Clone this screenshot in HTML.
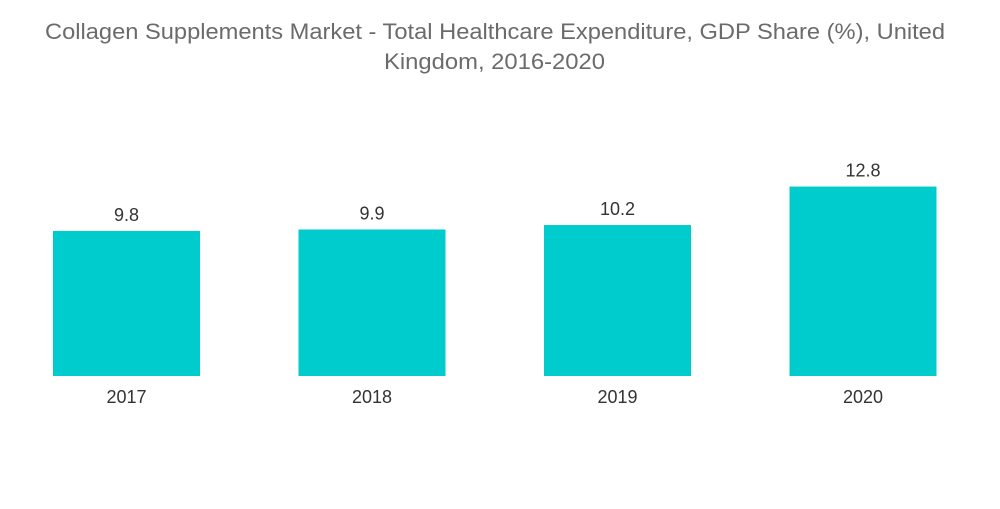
<!DOCTYPE html>
<html>
<head>
<meta charset="utf-8">
<style>
html,body{margin:0;padding:0;background:#fff;}
body{width:1000px;height:504px;overflow:hidden;font-family:"Liberation Sans",sans-serif;}
</style>
</head>
<body>
<svg id="chart" width="1000" height="504" xmlns="http://www.w3.org/2000/svg">
  <text x="45" y="39" textLength="900" lengthAdjust="spacingAndGlyphs" font-family="Liberation Sans, sans-serif" font-size="22" fill="#6b6b6b">Collagen Supplements Market - Total Healthcare Expenditure, GDP Share (%), United</text>
  <text x="384" y="69" textLength="221" lengthAdjust="spacingAndGlyphs" font-family="Liberation Sans, sans-serif" font-size="22" fill="#6b6b6b">Kingdom, 2016-2020</text>
  <g id="bars"></g>
</svg>
<script>
const categories = ["2017", "2018", "2019", "2020"];
const values = [9.8, 9.9, 10.2, 12.8];
const valueLabels = ["9.8", "9.9", "10.2", "12.8"];

const baseline = 376;
const pxPerUnit = 14.8;
const firstLeft = 53;
const step = 245.5;
const barW = 147;
function yScale(v){ return baseline - v * pxPerUnit; }
function xScale(i){ return firstLeft + i * step; }

const ns = "http://www.w3.org/2000/svg";
const g = document.getElementById("bars");
categories.forEach((c, i) => {
  const x = xScale(i), y = yScale(values[i]);
  const r = document.createElementNS(ns, "rect");
  r.setAttribute("x", x); r.setAttribute("y", y);
  r.setAttribute("width", barW); r.setAttribute("height", baseline - y);
  r.setAttribute("fill", "#00cccd");
  
  
  g.appendChild(r);

  const vl = document.createElementNS(ns, "text");
  vl.setAttribute("x", x + barW / 2); vl.setAttribute("y", y - 10);
  vl.setAttribute("text-anchor", "middle");
  vl.setAttribute("font-size", "18"); vl.setAttribute("fill", "#333");
  vl.textContent = valueLabels[i];
  
  
  g.appendChild(vl);

  const cl = document.createElementNS(ns, "text");
  cl.setAttribute("x", x + barW / 2); cl.setAttribute("y", 403);
  cl.setAttribute("text-anchor", "middle");
  cl.setAttribute("font-size", "18"); cl.setAttribute("fill", "#333");
  cl.textContent = c;
  
  
  g.appendChild(cl);
});
</script>
</body>
</html>
